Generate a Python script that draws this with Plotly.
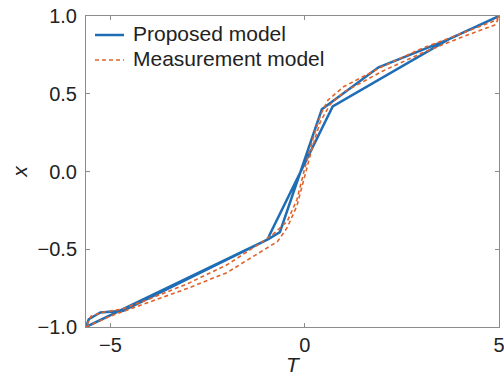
import plotly.graph_objects as go

# Proposed model (blue) - hysteresis loop
prop_asc_T = [-5.63, -0.95, -0.90, 0.72, 3.70, 4.95]
prop_asc_x = [-1.00, -0.437, -0.405, 0.418, 0.85, 0.995]
prop_desc_T = [5.00, 3.70, 1.90, 0.44, -0.64, -0.95, -4.67, -5.26, -5.56, -5.63]
prop_desc_x = [1.00, 0.85, 0.67, 0.40, -0.39, -0.437, -0.895, -0.907, -0.95, -1.00]

# Measurement model (orange dashed) - hysteresis loop
meas_asc_T = [-5.63, -5.0, -4.0, -3.0, -2.0, -1.2, -0.7, -0.45, -0.2, 0.0, 0.2, 0.4, 0.65, 1.0, 2.0, 3.0, 4.0, 4.92, 5.0]
meas_asc_x = [-1.0, -0.93, -0.84, -0.75, -0.65, -0.53, -0.45, -0.36, -0.22, -0.03, 0.16, 0.32, 0.43, 0.51, 0.645, 0.76, 0.86, 0.945, 0.99]
meas_desc_T = [5.0, 4.9, 4.0, 3.0, 2.0, 1.0, 0.6, 0.4, 0.2, 0.0, -0.2, -0.45, -0.8, -1.2, -2.0, -3.0, -4.0, -4.7, -5.2, -5.5, -5.63]
meas_desc_x = [1.0, 0.97, 0.885, 0.79, 0.675, 0.545, 0.46, 0.36, 0.2, 0.02, -0.18, -0.32, -0.40, -0.47, -0.60, -0.72, -0.82, -0.885, -0.905, -0.93, -1.0]

series_names = ["Proposed model", "Measurement model"]
x_tickvals = [-5, 0, 5]
x_ticktext = ["\u22125", "0", "5"]
y_tickvals = [-1.0, -0.5, 0.0, 0.5, 1.0]
y_ticktext = ["\u22121.0", "\u22120.5", "0.0", "0.5", "1.0"]

BLUE = "#1f6db4"
ORANGE = "#e0622a"
FONT = "Liberation Sans, Arial, sans-serif"
TXT = "#222222"
DASH = "4px,3px"

fig = go.Figure()
fig.add_trace(go.Scatter(
    x=prop_asc_T + prop_desc_T, y=prop_asc_x + prop_desc_x,
    mode="lines", name=series_names[0], showlegend=False,
    line=dict(color=BLUE, width=2.5)))
fig.add_trace(go.Scatter(
    x=meas_asc_T + meas_desc_T, y=meas_asc_x + meas_desc_x,
    mode="lines", name=series_names[1], showlegend=False,
    line=dict(color=ORANGE, width=1.6, dash=DASH)))

axis_common = dict(showline=True, linecolor="#8c8c8c", linewidth=1, mirror="ticks",
                   ticks="inside", ticklen=4, tickcolor="#8c8c8c", showgrid=False,
                   zeroline=False, automargin=False, ticklabeloverflow="allow",
                   tickfont=dict(family=FONT, size=20, color=TXT))

fig.update_xaxes(range=[-5.63, 5.0], tickvals=x_tickvals, ticktext=x_ticktext,
                 title=dict(text="<i>T</i>", font=dict(family=FONT, size=21, color=TXT), standoff=6),
                 **axis_common)
fig.update_yaxes(range=[-1.0, 1.0], tickvals=y_tickvals, ticktext=y_ticktext,
                 title=dict(text="<i>x</i>", font=dict(family=FONT, size=21, color=TXT), standoff=4),
                 ticklabelstandoff=4, **axis_common)

# Legend drawn inside the plot (top-left), compact spacing as in the reference
plot_l, plot_r, plot_t, plot_b = 86, 499, 16, 327
def px_x(p):
    return (p - plot_l) / (plot_r - plot_l)
def px_y(p):
    return 1 - (p - plot_t) / (plot_b - plot_t)

legend_rows = [(series_names[0], BLUE, 2.5, "solid", 35),
               (series_names[1], ORANGE, 1.6, DASH, 60)]
for name, col, w, dash, yy in legend_rows:
    fig.add_shape(type="line", xref="paper", yref="paper",
                  x0=px_x(95), x1=px_x(124), y0=px_y(yy), y1=px_y(yy),
                  line=dict(color=col, width=w, dash=dash))
    fig.add_annotation(xref="paper", yref="paper", x=px_x(131), y=px_y(yy - 1),
                       text=name, showarrow=False, xanchor="left", yanchor="middle",
                       font=dict(family=FONT, size=21, color=TXT))

fig.update_layout(
    width=504, height=376,
    margin=dict(l=plot_l, r=504 - plot_r, t=plot_t, b=376 - plot_b),
    paper_bgcolor="white", plot_bgcolor="white",
    font=dict(family=FONT, color=TXT),
    showlegend=False,
)

fig.write_html("out.html", config={"displayModeBar": False},
               post_script="document.body.style.margin='0';document.body.style.overflow='hidden';")
